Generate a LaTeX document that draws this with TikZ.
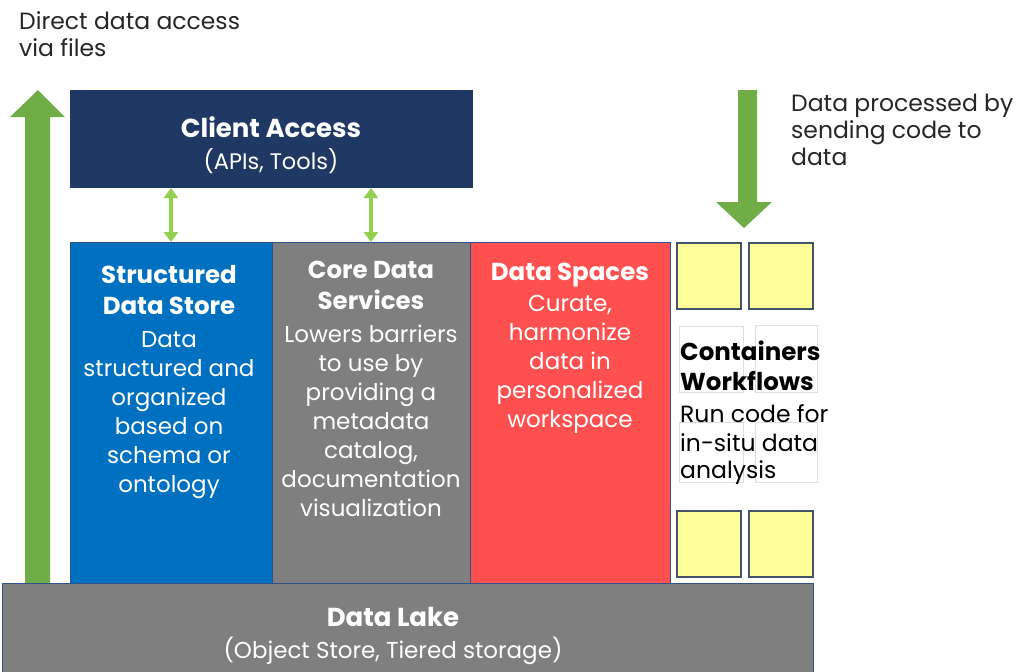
\documentclass[tikz,border=0pt]{standalone}
\usepackage{fontspec}
\setmainfont{Poppins}
\usetikzlibrary{arrows.meta,positioning}

\definecolor{navy}{HTML}{203864}
\definecolor{sdsblue}{HTML}{0070C0}
\definecolor{coregray}{HTML}{7F7F7F}
\definecolor{spacered}{HTML}{FF5050}
\definecolor{biggreen}{HTML}{70AD47}
\definecolor{linkgreen}{HTML}{92D050}
\definecolor{contyellow}{HTML}{FFFF99}
\definecolor{squareline}{HTML}{44546A}
\definecolor{colline}{HTML}{2F528F}
\definecolor{ghostgray}{HTML}{DDDDDD}
\definecolor{inkgray}{HTML}{262626}

\begin{document}
\begin{tikzpicture}[x=1pt,y=-1pt,
  box/.style={anchor=north west, inner sep=0pt, outer sep=0pt},
  col/.style={box, draw=colline, line width=0.8pt},
  coltext/.style={anchor=north, inner sep=0pt, align=center, text=white,
    font=\fontsize{23}{29}\selectfont},
  link/.style={{Triangle[length=10pt,width=14pt]}-{Triangle[length=10pt,width=14pt]},
    draw=linkgreen, line width=3.4pt},
  square/.style={box, fill=contyellow, draw=squareline, line width=1.2pt,
    minimum width=64pt, minimum height=66pt},
  ghost/.style={box, draw=ghostgray, line width=0.7pt},
  note/.style={inner sep=0pt, align=left, text=inkgray,
    font=\fontsize{23.5}{27}\selectfont}]

\useasboundingbox (0,0) rectangle (1021,672);

% big arrows
\fill[biggreen] (25,583) -- (25,117) -- (10,117) -- (38,90) -- (65,117)
  -- (50,117) -- (50,583) -- cycle;
\fill[biggreen] (738,90) -- (757,90) -- (757,202) -- (772,202) -- (744,228)
  -- (716,202) -- (738,202) -- cycle;

% client access
\node[box, fill=navy, minimum width=403pt, minimum height=98pt] (client) at (70,90) {};
\node[inner sep=0pt, align=center, text=white, font=\fontsize{22.5}{32}\selectfont]
  (clienttext) at (271,145) {{\fontsize{26}{32}\selectfont\bfseries Client Access}\\(APIs, Tools)};

% columns
\node[col, fill=sdsblue, minimum width=202pt, minimum height=341pt] (sds) at (70,242) {};
\node[col, fill=coregray, minimum width=198pt, minimum height=341pt] (core) at (272,242) {};
\node[col, fill=spacered, minimum width=200pt, minimum height=341pt] (space) at (470,242) {};

\node[coltext] (sdstext) at (169,265)
  {\textbf{\fontsize{24.5}{31}\selectfont Structured}\\[2pt]\textbf{\fontsize{24.5}{31}\selectfont Data Store}\\[4pt]
   Data\\structured and\\organized\\based on\\schema or\\ontology};
\node[coltext] (coretext) at (371,261)
  {\textbf{\fontsize{24.5}{31}\selectfont Core Data}\\[2pt]\textbf{\fontsize{24.5}{31}\selectfont Services}\\[4pt]
   Lowers barriers\\to use by\\providing a\\metadata\\catalog,\\documentation\\visualization};
\node[coltext] (spacetext) at (570,263)
  {\textbf{\fontsize{24.5}{31}\selectfont Data Spaces}\\[2pt]
   Curate,\\harmonize\\data in\\personalized\\workspace};

% links to client access
\draw[link] (sds.north) -- (sds.north |- client.south);
\draw[link] (core.north) -- (core.north |- client.south);

% containers
\node[square] (sq1) at (677,243) {};
\node[square] (sq2) at (749,243) {};
\node[square] (sq3) at (677,511) {};
\node[square] (sq4) at (749,511) {};
\node[ghost, minimum width=64pt, minimum height=66pt] (gh1) at (679,326) {};
\node[ghost, minimum width=62pt, minimum height=67pt] (gh2) at (755,325) {};
\node[ghost, minimum width=64pt, minimum height=60pt] (gh3) at (679,422) {};
\node[ghost, minimum width=62pt, minimum height=60pt] (gh4) at (755,422) {};
\node[note, anchor=north west, text=black] (conttext) at (680,341)
  {{\fontsize{24.5}{30}\selectfont\bfseries Containers}\\[3pt]{\fontsize{24.5}{30}\selectfont\bfseries Workflows}\\[5pt]
   Run code for\\[2pt]in-situ data\\analysis};

% data lake
\node[col, fill=coregray, minimum width=811pt, minimum height=92pt] (lake) at (2,583) {};
\node[inner sep=0pt, align=center, text=white, font=\fontsize{23}{32}\selectfont]
  (laketext) at (393,636) {{\fontsize{26}{32}\selectfont\bfseries Data Lake}\\(Object Store, Tiered storage)};

% notes
\node[note, anchor=north west] (directnote) at (19,11) {Direct data access\\via files};
\node[note, anchor=north west] (processnote) at (791,94) {Data processed by\\sending code to\\data};

\end{tikzpicture}
\end{document}
